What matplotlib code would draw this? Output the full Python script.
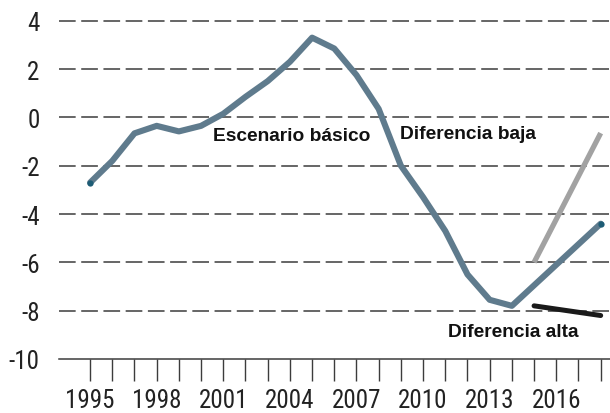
import numpy as np
import matplotlib
matplotlib.use("Agg")
from matplotlib import pyplot as plt

# Escenario básico, 1995-2018
years = list(range(1995, 2019))
basico = [-2.7, -1.8, -0.66, -0.35, -0.58, -0.35, 0.15, 0.85, 1.5, 2.3, 3.3, 2.85,
          1.75, 0.35, -2.0, -3.3, -4.7, -6.5, -7.55, -7.8, -6.95, -6.1, -5.25, -4.4]

# escenarios alternativos desde 2015
alt_years = [2015, 2018]
baja = [-6.0, -0.65]
alta = [-7.8, -8.2]

label_years = [1995, 1998, 2001, 2004, 2007, 2010, 2013, 2016]
y_ticks = [-10, -8, -6, -4, -2, 0, 2, 4]

tick_font = ['Roboto Condensed', 'DejaVu Sans']
plt.rcParams['lines.scale_dashes'] = False

fig = plt.figure(figsize=(6.1, 4.14), dpi=100)
ax = fig.add_axes([59 / 610, 54 / 414, 551 / 610, 345.5 / 414])

blue = '#5f7b8d'
grid_c = '#3c3c3c'

for v in y_ticks[1:]:
    ax.axhline(v, color=grid_c, lw=1.1, dashes=(12, 4), zorder=1)

ax.plot(alt_years, baja, color='#a2a2a2', lw=3.8, solid_capstyle='butt', zorder=3)
ax.plot(alt_years, alta, color='#1a1a1a', lw=3.6, solid_capstyle='round', zorder=3)
ax.plot(years, basico, color=blue, lw=4.4, solid_joinstyle='round',
        solid_capstyle='round', zorder=4)
ax.plot([years[0], years[-1]], [basico[0], basico[-1]], 'o', color='#1d5c75',
        ms=4.5, mec='none', zorder=5)

ax.set_xlim(1993.6, 2018.42)
ax.set_ylim(-10, 4.3)

ax.set_xticks(years)
ax.set_xticklabels([str(y) if y in label_years else '' for y in years],
                   family=tick_font, fontsize=18, color='#222222')
ax.set_yticks(y_ticks)
ax.set_yticklabels([str(v) for v in y_ticks], family=tick_font, fontsize=18,
                   color='#222222')
ax.tick_params(axis='x', direction='out', length=16, width=1.0, color=grid_c, pad=5)
ax.tick_params(axis='y', length=0, pad=14)

for s in ['top', 'right', 'left']:
    ax.spines[s].set_visible(False)
ax.spines['bottom'].set_color(grid_c)
ax.spines['bottom'].set_linewidth(1.1)

lab = dict(fontsize=13.8, fontweight='bold', family='Liberation Sans',
           color='#111111', va='center', ha='left')
ax.text(2000.54, -0.74, 'Escenario básico', **lab)
ax.text(2008.96, -0.66, 'Diferencia baja', **lab)
ax.text(2011.13, -8.85, 'Diferencia alta', **lab)

fig.savefig('out.png', dpi=100)
